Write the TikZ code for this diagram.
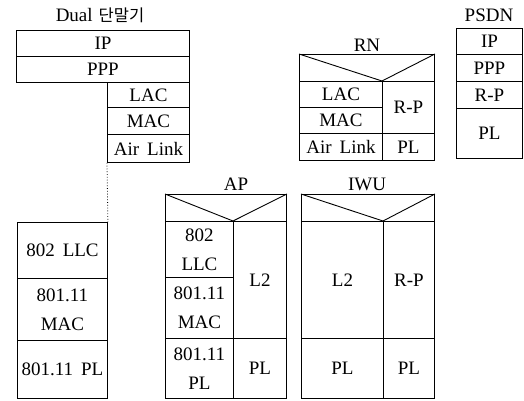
\documentclass[tikz,border=0pt]{standalone}
\usepackage{fontspec}
\setmainfont{Liberation Serif}
\newfontfamily\krfont{Noto Sans CJK KR}
\newcommand\mywidesp{\spaceskip=8pt plus 2pt minus 1pt\relax}
\begin{document}
\begin{tikzpicture}[x=1pt,y=-1pt,
  every node/.style={font=\fontsize{19}{29}\selectfont},
  layer/.style={draw,line width=0.9pt,rectangle,inner sep=0pt,anchor=north west,align=center,execute at begin node=\mywidesp},
  ttl/.style={inner sep=0pt},
  hdrline/.style={line width=0.9pt}]
\useasboundingbox (0,0) rectangle (524,401);
% Dual terminal
\node[ttl] (dualt) at (100,15) {Dual\hspace{6pt}{\krfont\fontsize{16.5}{20}\selectfont 단말기}};
\node[layer,minimum width=173pt,minimum height=26pt] (dip) at (16,30) {IP};
\node[layer,minimum width=173pt,minimum height=26pt] (dppp) at (16,56) {PPP};
\node[layer,minimum width=82pt,minimum height=25pt] (dlac) at (107,82) {LAC};
\node[layer,minimum width=82pt,minimum height=27pt] (dmac) at (107,107) {MAC};
\node[layer,minimum width=82pt,minimum height=28pt] (dair) at (107,134) {Air Link};
% WLAN terminal part
\node[layer,minimum width=90pt,minimum height=56pt] (wllc) at (17,222) {802 LLC};
\node[layer,minimum width=90pt,minimum height=62pt] (wmac) at (17,278) {801.11\\MAC};
\node[layer,minimum width=90pt,minimum height=58pt] (wpl) at (17,340) {801.11 PL};
\draw[dotted,line width=0.8pt] (dair.south west) -- (wllc.north east);
% RN
\node[ttl] (rnt) at (367,45) {RN};
\node[layer,minimum width=135pt,minimum height=27pt] (rnh) at (299,54) {};
\coordinate (rnv) at (382,81);
\draw[hdrline] (rnh.north west) -- (rnv) -- (rnh.north east);
\node[layer,minimum width=83pt,minimum height=26pt] (rnlac) at (299,81) {LAC};
\node[layer,minimum width=83pt,minimum height=26pt] (rnmac) at (299,107) {MAC};
\node[layer,minimum width=83pt,minimum height=27pt] (rnair) at (299,133) {Air Link};
\node[layer,minimum width=52pt,minimum height=52pt] (rnrp) at (382,81) {R-P};
\node[layer,minimum width=52pt,minimum height=27pt] (rnpl) at (382,133) {PL};
% PSDN
\node[ttl] (pst) at (489,15) {PSDN};
\node[layer,minimum width=66pt,minimum height=26pt] (psip) at (456,28) {IP};
\node[layer,minimum width=66pt,minimum height=27pt] (psppp) at (456,54) {PPP};
\node[layer,minimum width=66pt,minimum height=27pt] (psrp) at (456,81) {R-P};
\node[layer,minimum width=66pt,minimum height=50pt] (pspl) at (456,108) {PL};
% AP
\node[ttl] (apt) at (236,184) {AP};
\node[layer,minimum width=121pt,minimum height=27pt] (aph) at (165,194) {};
\coordinate (apv) at (233,221);
\draw[hdrline] (aph.north west) -- (apv) -- (aph.north east);
\node[layer,minimum width=68pt,minimum height=56pt] (apllc) at (165,221) {802\\LLC};
\node[layer,minimum width=68pt,minimum height=61pt] (apmac) at (165,277) {801.11\\MAC};
\node[layer,minimum width=68pt,minimum height=60pt] (appla) at (165,338) {801.11\\PL};
\node[layer,minimum width=53pt,minimum height=117pt] (apl2) at (233,221) {L2};
\node[layer,minimum width=53pt,minimum height=60pt] (applb) at (233,338) {PL};
% IWU
\node[ttl] (iwt) at (367,184) {IWU};
\node[layer,minimum width=133pt,minimum height=27pt] (iwh) at (301,194) {};
\coordinate (iwv) at (383,221);
\draw[hdrline] (iwh.north west) -- (iwv) -- (iwh.north east);
\node[layer,minimum width=82pt,minimum height=117pt] (iwl2) at (301,221) {L2};
\node[layer,minimum width=82pt,minimum height=60pt] (iwpla) at (301,338) {PL};
\node[layer,minimum width=51pt,minimum height=117pt] (iwrp) at (383,221) {R-P};
\node[layer,minimum width=51pt,minimum height=60pt] (iwplb) at (383,338) {PL};
\end{tikzpicture}
\end{document}
